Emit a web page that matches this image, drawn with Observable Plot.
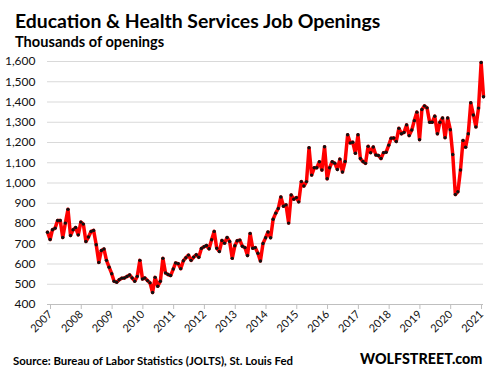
<!DOCTYPE html>
<html><head><meta charset="utf-8">
<script src="https://cdn.jsdelivr.net/npm/d3@7"></script>
<script src="https://cdn.jsdelivr.net/npm/@observablehq/plot@0.6"></script>
<style>
body{margin:0;background:#fff;}
#wrap{position:relative;width:494px;height:379px;overflow:hidden;font-family:Lato,"DejaVu Sans",sans-serif;}
.t{position:absolute;white-space:nowrap;font-weight:bold;color:#000;line-height:1;}
#chart{position:absolute;left:0;top:0;}
</style></head><body>
<div id="wrap">
<div id="chart"></div>
<div class="t" style="left:15px;top:11px;font-size:19.4px;">Education &amp; Health Services Job Openings</div>
<div class="t" style="left:15px;top:35px;font-size:14.6px;">Thousands of openings</div>
<div class="t" style="left:13px;top:355px;font-size:11.4px;">Source: Bureau of Labor Statistics (JOLTS), St. Louis Fed</div>
<div class="t" style="left:360px;top:352px;font-size:14.3px;font-weight:900;">WOLFSTREET.com</div>
</div>
<script>
// Monthly job openings (thousands), January through December of each year
const y2007 = [757, 721, 769, 777, 815, 815, 731, 802, 870, 741, 769, 780];
const y2008 = [744, 807, 797, 711, 733, 761, 766, 695, 608, 667, 674, 618];
const y2009 = [584, 552, 515, 510, 522, 530, 531, 538, 546, 531, 515, 539];
const y2010 = [618, 526, 531, 518, 507, 459, 534, 490, 515, 628, 556, 548];
const y2011 = [543, 575, 605, 602, 577, 616, 631, 644, 618, 634, 646, 633];
const y2012 = [677, 685, 691, 675, 720, 761, 678, 662, 716, 703, 731, 711];
const y2013 = [628, 690, 715, 718, 688, 681, 642, 751, 678, 681, 653, 615];
const y2014 = [701, 730, 758, 730, 821, 851, 874, 931, 885, 892, 802, 941];
const y2015 = [920, 928, 907, 1007, 985, 1007, 1174, 1039, 1075, 1075, 1105, 1064];
const y2016 = [1179, 1021, 1075, 1105, 1098, 1067, 1118, 1054, 1106, 1238, 1198, 1201];
const y2017 = [1147, 1238, 1121, 1106, 1097, 1181, 1150, 1178, 1138, 1136, 1121, 1150];
const y2018 = [1152, 1187, 1221, 1222, 1205, 1270, 1243, 1250, 1287, 1234, 1262, 1308];
const y2019 = [1350, 1214, 1363, 1381, 1371, 1300, 1300, 1330, 1243, 1300, 1321, 1224];
const y2020 = [1321, 1263, 1141, 943, 957, 1064, 1210, 1177, 1243, 1396, 1336, 1277];
const y2021 = [1370, 1595, 1426];

const years = [2007,2008,2009,2010,2011,2012,2013,2014,2015,2016,2017,2018,2019,2020,2021];
const yearValues = [y2007,y2008,y2009,y2010,y2011,y2012,y2013,y2014,y2015,y2016,y2017,y2018,y2019,y2020,y2021];
const yTicks = [400,500,600,700,800,900,1000,1100,1200,1300,1400,1500,1600];
const xTickLabels = ["2007","2008","2009","2010","2011","2012","2013","2014","2015","2016","2017","2018","2019","2020","2021"];

const data = [];
years.forEach((yr, j) => yearValues[j].forEach((v, i) => data.push({date: new Date(Date.UTC(yr, i, 1)), value: v})));
const xTicks = xTickLabels.map(s => new Date(Date.UTC(+s, 0, 1)));

const chart = Plot.plot({
  width: 494, height: 379,
  marginTop: 61, marginBottom: 75, marginLeft: 47, marginRight: 11,
  style: {fontFamily: "Lato, sans-serif", fontSize: "12px", color: "#000", background: "transparent"},
  x: {type: "utc", domain: [new Date(Date.UTC(2007,0,1)), new Date(Date.UTC(2021,2,1))]},
  y: {domain: [400, 1600]},
  marks: [
    Plot.ruleY(yTicks.slice(1), {stroke: "#d9d9d9", strokeWidth: 1}),
    Plot.ruleY([400], {stroke: "#bfbfbf", strokeWidth: 1}),
    Plot.axisY({ticks: yTicks, tickSize: 0, tickPadding: 12, tickFormat: d3.format(","), label: null, fill: "#111"}),
    Plot.axisX({ticks: xTicks, tickSize: 5, tickPadding: 3, tickRotate: -45, tickFormat: d3.utcFormat("%Y"), label: null, stroke: "#bfbfbf", fill: "#111", fontSize: 11, dx: 3}),
    Plot.line(data, {x: "date", y: "value", stroke: "#ff0000", strokeWidth: 3.5, strokeLinejoin: "round"}),
    Plot.dot(data, {x: "date", y: "value", r: 1.7, fill: "#111", stroke: "none"})
  ]
});
document.getElementById("chart").appendChild(chart);
</script>
</body></html>
